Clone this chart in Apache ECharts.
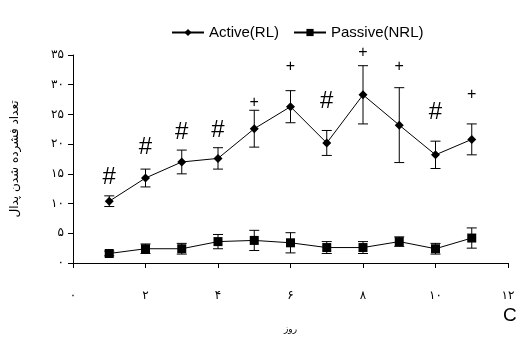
<!DOCTYPE html>
<html>
<head>
<meta charset="utf-8">
<script src="https://cdn.jsdelivr.net/npm/echarts@6/dist/echarts.min.js"></script>
<style>
  html, body { margin: 0; padding: 0; background: #fff; }
  #main { width: 521px; height: 340px; }
</style>
</head>
<body>
<div id="main"></div>
<script>
// داده ها
var days = [1, 2, 3, 4, 5, 6, 7, 8, 9, 10, 11];
var activeMean = [10.4, 14.3, 17.0, 17.6, 22.6, 26.3, 20.2, 28.3, 23.2, 18.2, 20.8];
var activeErr = [0.9, 1.5, 2.0, 1.8, 3.1, 2.7, 2.1, 4.9, 6.3, 2.3, 2.6];
var passiveMean = [1.6, 2.4, 2.4, 3.6, 3.8, 3.4, 2.6, 2.6, 3.6, 2.4, 4.2];
var passiveErr = [0.4, 0.8, 0.9, 1.2, 1.7, 1.7, 1.0, 1.0, 0.8, 0.9, 1.7];
var hashMarks = [[1, 14.4], [2, 19.4], [3, 21.9], [4, 22.3], [7, 27.2], [10, 25.3]];
var plusMarks = [[5, 27.0], [6, 33.0], [8, 35.4], [9, 33.0], [11, 28.3]];

var faDigits = '۰۱۲۳۴۵۶۷۸۹';
function toFa(v) {
    return String(v).replace(/[0-9]/g, function (d) { return faDigits[+d]; });
}

function errData(mean, err) {
    return days.map(function (d, i) { return [d, mean[i] - err[i], mean[i] + err[i]]; });
}

function errBar(params, api) {
    var lo = api.coord([api.value(0), api.value(1)]);
    var hi = api.coord([api.value(0), api.value(2)]);
    var w = 5;
    var st = { stroke: '#000', lineWidth: 1 };
    return {
        type: 'group',
        children: [
            { type: 'line', shape: { x1: lo[0], y1: lo[1], x2: hi[0], y2: hi[1] }, style: st },
            { type: 'line', shape: { x1: lo[0] - w, y1: lo[1], x2: lo[0] + w, y2: lo[1] }, style: st },
            { type: 'line', shape: { x1: hi[0] - w, y1: hi[1], x2: hi[0] + w, y2: hi[1] }, style: st }
        ]
    };
}

// علامت ها (# و +) به صورت متن
function markText(txt, size) {
    return function (params, api) {
        var p = api.coord([api.value(0), api.value(1)]);
        return {
            type: 'text',
            x: p[0], y: p[1],
            style: { text: txt, fontFamily: 'Liberation Sans', fontSize: size, fill: '#000', align: 'center', verticalAlign: 'middle' }
        };
    };
}

var myChart = echarts.init(document.getElementById('main'));
var option = {
    backgroundColor: '#fff',
    animation: false,
    legend: {
        top: 20,
        left: 166,
        itemWidth: 32,
        itemHeight: 9,
        itemGap: 14,
        data: ['Active(RL)', 'Passive(NRL)'],
        textStyle: { fontFamily: 'Liberation Sans', fontSize: 15, color: '#000' }
    },
    grid: { left: 73, right: 13, top: 55, bottom: 77 },
    xAxis: {
        type: 'value',
        min: 0, max: 12, interval: 2,
        name: 'روز',
        nameLocation: 'middle',
        nameGap: 62,
        nameTextStyle: { fontFamily: 'DejaVu Sans', fontSize: 9, color: '#000' },
        axisLine: { lineStyle: { color: '#000', width: 1 } },
        axisTick: { show: true, length: 5, lineStyle: { color: '#000' } },
        axisLabel: { margin: 27, fontFamily: 'DejaVu Sans', fontSize: 12, color: '#000', formatter: toFa },
        splitLine: { show: false }
    },
    yAxis: {
        type: 'value',
        min: 0, max: 35, interval: 5,
        name: 'تعداد فشرده شدن پدال',
        nameLocation: 'middle',
        nameGap: 52,
        nameRotate: 90,
        nameTextStyle: { fontFamily: 'DejaVu Sans', fontSize: 12, color: '#000' },
        axisLine: { show: true, lineStyle: { color: '#000', width: 1 } },
        axisTick: { show: true, length: 5, lineStyle: { color: '#000' } },
        axisLabel: { margin: 9, fontFamily: 'DejaVu Sans', fontSize: 12, color: '#000', formatter: toFa },
        splitLine: { show: false }
    },
    graphic: [
        { type: 'text', left: 503, top: 306, style: { text: 'C', fontFamily: 'Liberation Sans', fontSize: 19, fill: '#000' } }
    ],
    series: [
        {
            name: 'Active(RL)',
            type: 'line',
            data: days.map(function (d, i) { return [d, activeMean[i]]; }),
            symbol: 'diamond',
            symbolSize: 9,
            lineStyle: { color: '#000', width: 1 },
            itemStyle: { color: '#000' },
            z: 5
        },
        {
            name: 'Passive(NRL)',
            type: 'line',
            data: days.map(function (d, i) { return [d, passiveMean[i]]; }),
            symbol: 'rect',
            symbolSize: 9,
            lineStyle: { color: '#000', width: 1 },
            itemStyle: { color: '#000' },
            z: 5
        },
        {
            type: 'custom',
            renderItem: errBar,
            data: errData(activeMean, activeErr),
            encode: { x: 0, y: [1, 2] },
            z: 4
        },
        {
            type: 'custom',
            renderItem: errBar,
            data: errData(passiveMean, passiveErr),
            encode: { x: 0, y: [1, 2] },
            z: 4
        },
        {
            type: 'custom',
            renderItem: markText('#', 24),
            data: hashMarks,
            clip: false,
            z: 6
        },
        {
            type: 'custom',
            renderItem: markText('+', 16),
            data: plusMarks,
            clip: false,
            z: 6
        }
    ]
};
myChart.setOption(option);
</script>
</body>
</html>
